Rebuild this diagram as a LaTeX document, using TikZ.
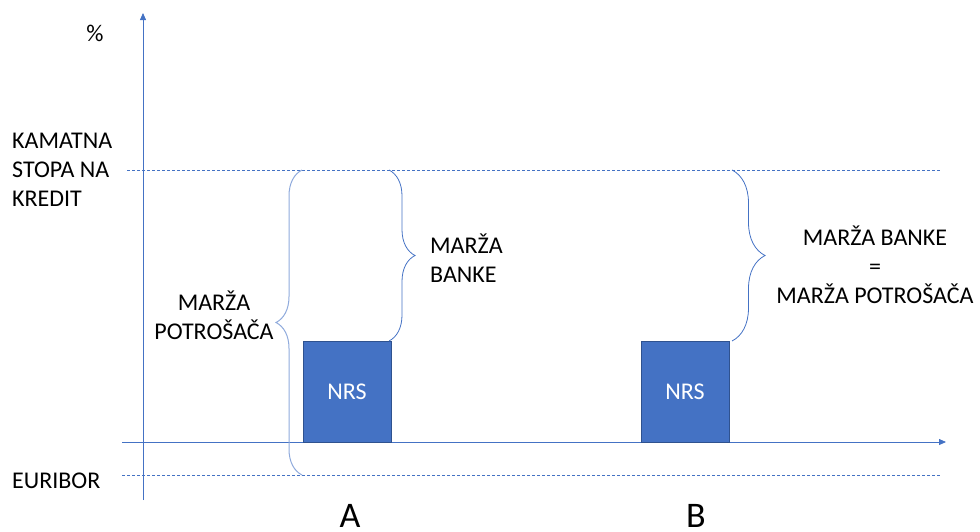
\documentclass[tikz,border=0pt]{standalone}
\usepackage{fontspec}
\setmainfont{Carlito}
\usetikzlibrary{arrows.meta,decorations.pathreplacing}
\definecolor{oblue}{HTML}{4472C4}
\definecolor{lblue}{HTML}{8FAADC}
\definecolor{dblue}{HTML}{2F528F}
\begin{document}
\begin{tikzpicture}[x=1pt,y=-1pt,
  axis/.style={draw=oblue,line width=0.8pt,-{Triangle[length=7pt,width=6pt]}},
  guide/.style={draw=oblue,line width=0.7pt,dash pattern=on 3pt off 2pt},
  brc/.style={draw=oblue,line width=0.8pt,decorate,decoration={brace,amplitude=#1}},
  lbl/.style={font=\fontsize{24}{29}\selectfont,inner sep=0pt},
  big/.style={font=\fontsize{36}{40}\selectfont,inner sep=0pt},
  bar/.style={fill=oblue,draw=dblue,line width=0.8pt,minimum width=88pt,minimum height=101pt,inner sep=0pt,text=white,font=\fontsize{24}{28}\selectfont}]
\useasboundingbox (0,0) rectangle (980,531);
% guides
\coordinate (t1) at (127,170); \coordinate (t2) at (940,170);
\coordinate (e1) at (122,475); \coordinate (e2) at (940,475);
\draw[guide] (t1) -- (t2);
\draw[guide] (e1) -- (e2);
% axes
\coordinate (y0) at (143,500); \coordinate (y1) at (143,13);
\coordinate (x0) at (122,442); \coordinate (x1) at (946,442);
\draw[axis] (y0) -- (y1);
\draw[axis] (x0) -- (x1);
% bars
\node[bar] (nrsA) at (347,391.5) {NRS};
\node[bar] (nrsB) at (685,391.5) {NRS};
% braces
\coordinate (ba1) at (302,475); \coordinate (ba2) at (302,170);
\draw[brc=26pt,draw=lblue,line width=1pt] (ba1) -- (ba2);
\coordinate (bb1) at (389,170); \coordinate (bb2) at (389,341);
\draw[brc=26pt] (bb1) -- (bb2);
\coordinate (bc1) at (732,170); \coordinate (bc2) at (732,341);
\draw[brc=33pt] (bc1) -- (bc2);
% labels
\node[lbl] (pct) at (95,33) {\%};
\node[lbl,anchor=west,align=left] (kam) at (12,170) {KAMATNA\\STOPA NA\\KREDIT};
\node[lbl,anchor=west] (eur) at (12,481) {EURIBOR};
\node[lbl,anchor=west,align=left] (mb) at (430,258) {MARŽA\\BANKE};
\node[lbl,align=center] (mp) at (214,315) {MARŽA\\POTROŠAČA};
\node[lbl,align=center] (mbp) at (875,265) {MARŽA BANKE\\=\\MARŽA POTROŠAČA};
\node[big] (lA) at (350,516) {A};
\node[big] (lB) at (696,516) {B};
\end{tikzpicture}
\end{document}
